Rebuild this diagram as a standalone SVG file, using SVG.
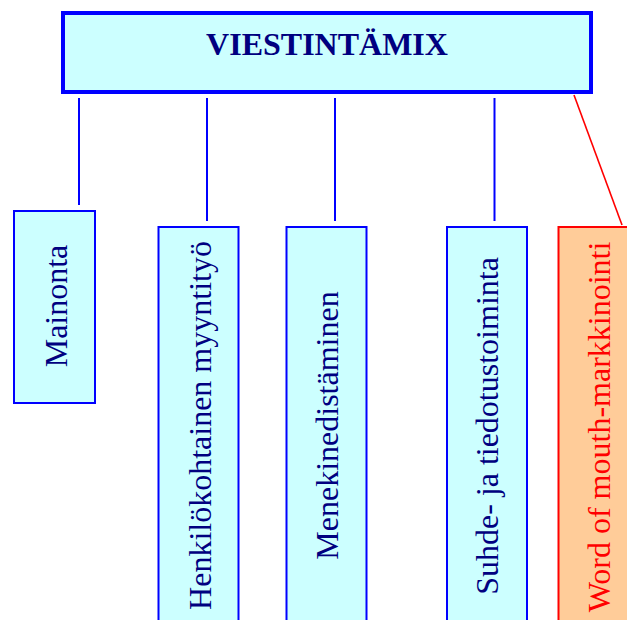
<svg xmlns="http://www.w3.org/2000/svg" width="627" height="620" viewBox="0 0 627 620">
<style>
.box{fill:#CCFFFF;stroke:#0000FF;stroke-width:2}
.wom{fill:#FFCC99;stroke:#FF0000;stroke-width:2}
.lbl{font-family:"Liberation Serif","Times New Roman",serif;font-size:32px;fill:#000080;text-anchor:middle}
.lblr{font-family:"Liberation Serif","Times New Roman",serif;font-size:32px;fill:#FF0000;text-anchor:middle}
.con{stroke:#0000FF;stroke-width:2;fill:none}
</style>
<rect width="627" height="620" fill="#FFFFFF"/>
<g id="connectors">
<line class="con" x1="79" y1="98" x2="79" y2="205"/>
<line class="con" x1="207" y1="98" x2="207" y2="221"/>
<line class="con" x1="335" y1="98" x2="335" y2="221"/>
<line class="con" x1="494.5" y1="98" x2="494.5" y2="221"/>
<line x1="574" y1="95" x2="622" y2="225" stroke="#FF0000" stroke-width="1.6"/>
</g>
<g id="viestintamix">
<rect x="63" y="13" width="528" height="79" fill="#CCFFFF" stroke="#0000FF" stroke-width="4"/>
<text x="327" y="55" font-family="Liberation Serif, Times New Roman, serif" font-size="32" font-weight="bold" fill="#000080" text-anchor="middle">VIESTINTÄMIX</text>
</g>
<g id="mainonta">
<rect class="box" x="14" y="211" width="81" height="192"/>
<text class="lbl" transform="translate(67,306) rotate(-90)">Mainonta</text>
</g>
<g id="henkilokohtainen">
<rect class="box" x="158.5" y="227" width="80" height="420"/>
<text class="lbl" transform="translate(211,425.5) rotate(-90)">Henkilökohtainen myyntityö</text>
</g>
<g id="menekinedistaminen">
<rect class="box" x="286.5" y="227" width="80" height="420"/>
<text class="lbl" transform="translate(338,425.5) rotate(-90)">Menekinedistäminen</text>
</g>
<g id="suhde">
<rect class="box" x="447" y="227" width="80" height="420"/>
<text class="lbl" transform="translate(498,426) rotate(-90)">Suhde- ja tiedotustoiminta</text>
</g>
<g id="wom">
<rect class="wom" x="558.5" y="227" width="80" height="420"/>
<text class="lblr" transform="translate(610,427) rotate(-90)">Word of mouth-markkinointi</text>
</g>
</svg>
